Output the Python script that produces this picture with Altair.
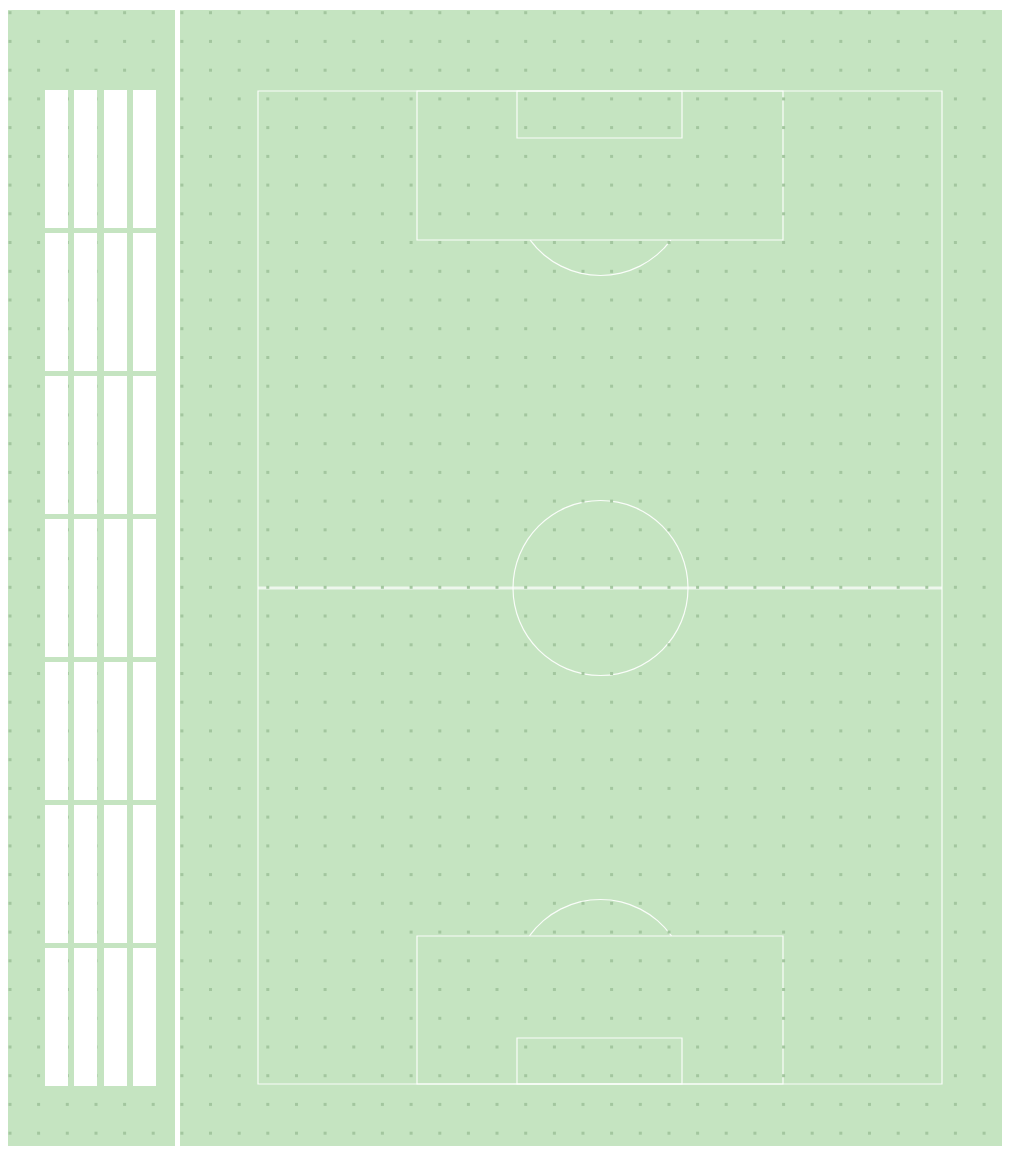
import itertools
import altair as alt
import pandas as pd

# ---- data (chart units = pixels of the drawing area, origin top-left) ----
W, H = 994, 1136

dot_x = [2, 30.6, 59.3, 88, 116.6, 145.2, 173.9, 202.5, 231.2, 259.8, 288.5, 317.1,
         345.8, 374.4, 403.1, 431.8, 460.4, 489, 517.7, 546.4, 575, 603.6, 632.3, 661,
         689.6, 718.2, 746.9, 775.6, 804.2, 832.8, 861.5, 890.2, 918.8, 947.4, 976.1]
dot_y = [2.7, 31.4, 60.2, 88.9, 117.6, 146.4, 175.1, 203.8, 232.5, 261.3, 290, 318.7,
         347.5, 376.2, 404.9, 433.7, 462.4, 491.1, 519.8, 548.6, 577.3, 606, 634.8,
         663.5, 692.2, 720.9, 749.7, 778.4, 807.1, 835.9, 864.6, 893.3, 922.1, 950.8,
         979.5, 1008.3, 1037, 1065.7, 1094.4, 1123.2]

# side panel slots
slot_x0 = [37, 66, 96, 125]
slot_x1 = [60, 89, 119, 148]
slot_y0 = [80, 223, 366, 509, 652, 795, 938]
slot_y1 = [218, 361, 504, 647, 790, 933, 1076]

# separator
sep_x = [167, 172]

# pitch boxes: name, x0, x1, y0, y1
box_name = ["pitch", "penalty_top", "goal_top", "penalty_bottom", "goal_bottom"]
box_x0 = [250, 409, 509, 409, 509]
box_x1 = [934, 775, 674, 775, 674]
box_y0 = [81, 81, 81, 926, 1028]
box_y1 = [1074, 230, 128, 1074, 1074]

halfway_x = [250, 934]
halfway_y = [578]

# circles / arcs: centre, radius, start & end angle (radians, clockwise from 12 o'clock)
arc_name = ["centre", "arc_top", "arc_bottom"]
arc_cx = [592.5, 592.5, 592.5]
arc_cy = [578, 178, 977]
arc_r = [87.5, 87.5, 87.5]
arc_t0 = [0, 2.208, 5.336]
arc_t1 = [6.2832, 4.075, 7.230]

BG = "#c5e4c1"
DOT = "#a3c69f"

# ---- tables ----
dots = pd.DataFrame(list(itertools.product(dot_x, dot_y)), columns=["x", "y"])
slots = pd.DataFrame([
    {"x0": a, "x1": b, "y0": c, "y1": d}
    for (a, b) in zip(slot_x0, slot_x1) for (c, d) in zip(slot_y0, slot_y1)
])
bg = pd.DataFrame({"x0": [0], "x1": [W], "y0": [0], "y1": [H]})
sep = pd.DataFrame({"x0": [sep_x[0]], "x1": [sep_x[1]], "y0": [0], "y1": [H]})
boxes = pd.DataFrame({"name": box_name, "x0": box_x0, "x1": box_x1, "y0": box_y0, "y1": box_y1})
half = pd.DataFrame({"x0": [halfway_x[0]], "x1": [halfway_x[1]], "y": halfway_y})
arcs = pd.DataFrame({"name": arc_name, "cx": arc_cx, "cy": arc_cy,
                     "r0": [r - 0.6 for r in arc_r], "r1": [r + 0.6 for r in arc_r],
                     "t0": arc_t0, "t1": arc_t1})

xs = alt.Scale(domain=[0, W], nice=False, zero=False)
ys = alt.Scale(domain=[0, H], nice=False, zero=False, reverse=True)


def X(f):
    return alt.X(f, type="quantitative", scale=xs, axis=None)


def Y(f):
    return alt.Y(f, type="quantitative", scale=ys, axis=None)


bg_layer = alt.Chart(bg).mark_rect(color=BG).encode(
    x=X("x0"), x2="x1", y=Y("y0"), y2="y1")

box_layer = alt.Chart(boxes).mark_rect(
    fillOpacity=0, stroke="white", strokeWidth=1.2, strokeOpacity=0.9
).encode(x=X("x0"), x2="x1", y=Y("y0"), y2="y1")

half_layer = alt.Chart(half).mark_rule(
    color="white", strokeWidth=3, opacity=0.7
).encode(x=X("x0"), x2="x1", y=Y("y"))

arc_layer = alt.Chart(arcs).mark_arc(color="white", opacity=0.9).encode(
    x=X("cx"), y=Y("cy"),
    theta=alt.Theta("t0:Q", scale=None), theta2="t1",
    radius=alt.Radius("r0:Q", scale=None), radius2="r1",
)

dot_layer = alt.Chart(dots).mark_square(size=9, color=DOT, opacity=1, filled=True).encode(
    x=X("x"), y=Y("y"))

sep_layer = alt.Chart(sep).mark_rect(color="white").encode(
    x=X("x0"), x2="x1", y=Y("y0"), y2="y1")

slot_layer = alt.Chart(slots).mark_rect(color="white").encode(
    x=X("x0"), x2="x1", y=Y("y0"), y2="y1")

chart = alt.layer(
    bg_layer, box_layer, half_layer, arc_layer, dot_layer, sep_layer, slot_layer
).properties(
    width=W, height=H,
    padding={"left": 0, "top": 2, "right": 0, "bottom": 0},
).configure_view(stroke=None).configure(background="white")

chart.save("out.html", embed_options={"renderer": "svg", "actions": False})
